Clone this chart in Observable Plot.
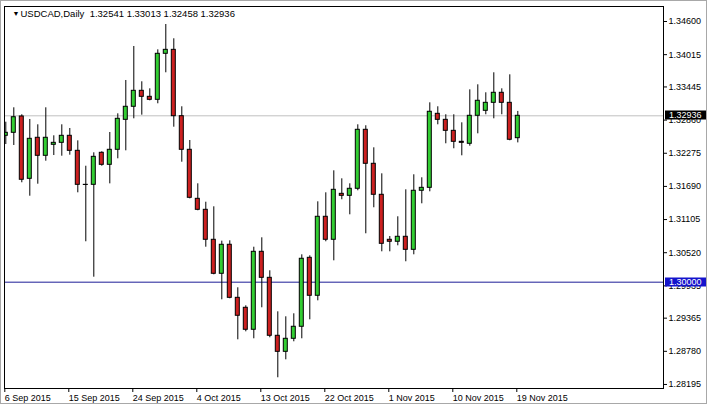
<!DOCTYPE html>
<html><head><meta charset="utf-8">
<script src="https://cdn.jsdelivr.net/npm/d3@7"></script>
<script src="https://cdn.jsdelivr.net/npm/@observablehq/plot@0.6"></script>
<style>
html,body{margin:0;padding:0;background:#fff;}
#wrap{position:relative;width:708px;height:407px;overflow:hidden;}
#border{position:absolute;left:0;top:0;width:707px;height:404px;box-sizing:border-box;border:1px solid #a8a8a8;pointer-events:none;}
</style></head><body><div id="wrap"><div id="border"></div></div>
<script>
const symbolName = "USDCAD,Daily";
const openP  = [1.32583,1.32636,1.32924,1.31824,1.32548,1.32230,1.32424,1.32459,1.32583,1.32318,
                1.31718,1.31718,1.32283,1.32071,1.32336,1.32865,1.33095,1.33377,1.33271,1.33218,
                1.34030,1.34100,1.32929,1.32336,1.31471,1.31277,1.30748,1.30148,1.30660,1.29724,
                1.29548,1.29160,1.30536,1.30077,1.29054,1.28771,1.29001,1.29213,1.30430,1.29760,
                1.31154,1.30748,1.31559,1.31524,1.31648,1.32689,1.32089,1.31542,1.30748,1.30713,
                1.30801,1.30571,1.31613,1.31665,1.32971,1.32865,1.32671,1.32477,1.32442,1.32936,
                1.33024,1.33165,1.33342,1.33165,1.32541];
const highP  = [1.32823,1.33077,1.32954,1.32871,1.32777,1.33077,1.32583,1.32777,1.32712,1.32494,
                1.32046,1.32283,1.32301,1.32641,1.32971,1.33559,1.34159,1.33536,1.33412,1.34100,
                1.34547,1.34295,1.33095,1.32500,1.31736,1.31411,1.31330,1.30724,1.30730,1.29901,
                1.29583,1.30617,1.30783,1.30201,1.29477,1.29389,1.29442,1.30483,1.30465,1.31418,
                1.31577,1.31965,1.31824,1.31736,1.32777,1.32760,1.32371,1.31912,1.30806,1.31154,
                1.31630,1.31895,1.31842,1.33165,1.33095,1.32954,1.32954,1.32812,1.33394,1.33483,
                1.33342,1.33695,1.33412,1.33659,1.33013];
const lowP   = [1.32429,1.32412,1.31754,1.31517,1.31729,1.32135,1.32235,1.32223,1.32241,1.31577,
                1.30713,1.30088,1.32046,1.31735,1.32177,1.32318,1.32883,1.32947,1.33200,1.33148,
                1.33695,1.32735,1.32117,1.31470,1.31260,1.30617,1.30130,1.29689,1.29707,1.28983,
                1.29124,1.29001,1.29548,1.29019,1.28313,1.28630,1.28948,1.29001,1.29336,1.29671,
                1.30713,1.30377,1.31454,1.31189,1.31613,1.30854,1.31313,1.30536,1.30536,1.30642,
                1.30360,1.30483,1.31383,1.31595,1.32777,1.32442,1.32354,1.32230,1.32400,1.32618,
                1.32954,1.32883,1.32954,1.32495,1.32458];
const closeP = [1.32636,1.32911,1.31807,1.32530,1.32230,1.32548,1.32459,1.32583,1.32318,1.31718,
                1.31715,1.32212,1.32071,1.32336,1.32883,1.33095,1.33377,1.33271,1.33218,1.34030,
                1.34100,1.32929,1.32336,1.31489,1.31277,1.30748,1.30148,1.30660,1.29724,1.29407,
                1.29160,1.30536,1.30077,1.29054,1.28771,1.29001,1.29213,1.30413,1.29760,1.31154,
                1.30748,1.31630,1.31524,1.31648,1.32689,1.32089,1.31542,1.30677,1.30713,1.30801,
                1.30571,1.31613,1.31665,1.33007,1.32865,1.32671,1.32477,1.32459,1.32936,1.33201,
                1.33165,1.33342,1.33165,1.32513,1.32936];
const dateTickIdx = [0, 8, 16, 24, 32, 40, 48, 56, 64];
const dateTickLabels = ["6 Sep 2015","15 Sep 2015","24 Sep 2015","4 Oct 2015","13 Oct 2015",
                        "22 Oct 2015","1 Nov 2015","10 Nov 2015","19 Nov 2015"];
const priceTicks = [1.34600,1.34015,1.33445,1.32860,1.32275,1.31690,1.31105,1.30520,1.29935,1.29365,1.28780,1.28195];
const bidPrice = 1.32936;
const levelPrice = 1.30000;

const candles = openP.map((o, i) => ({i, open: o, high: highP[i], low: lowP[i], close: closeP[i]}));
const last = candles[candles.length - 1];
const header = symbolName + "\u00a0\u00a0" + [last.open, last.high, last.low, last.close].map(v => v.toFixed(5)).join(" ");

const tickPos = dateTickIdx.map(i => i - 0.25);
const labelByPos = new Map(tickPos.map((p, k) => [p, dateTickLabels[k]]));

function priceBox(value, bg) {
  return (index, scales, values, dims) => {
    const y = Math.round(scales.y(value));
    const x0 = dims.width - dims.marginRight + 2;
    const g = d3.create("svg:g");
    g.append("rect").attr("x", x0).attr("y", y - 4.5).attr("width", 41).attr("height", 9).attr("fill", bg);
    g.append("text").attr("x", x0 + 4).attr("y", y).attr("dy", "0.36em").attr("fill", "white")
      .attr("text-anchor", "start")
      .attr("font-size", 9).attr("font-family", "'Liberation Sans', Arial, sans-serif").text(value.toFixed(5));
    return g.node();
  };
}

const chart = Plot.plot({
  width: 708, height: 407,
  marginLeft: 4, marginRight: 45, marginTop: 6, marginBottom: 19,
  style: {fontFamily: "'Liberation Sans', Arial, sans-serif", fontSize: "9px", background: "white", color: "black", overflow: "visible"},
  x: {type: "linear", domain: [-0.1625, 82.2125], axis: null},
  y: {type: "linear", domain: [1.281238, 1.348647], axis: null},
  marks: [
    Plot.ruleY([bidPrice], {stroke: "#c0c0c0"}),
    Plot.ruleY([levelPrice], {stroke: "#1c1c96"}),
    Plot.ruleX(candles, {x: "i", y1: "low", y2: "high", stroke: "black", clip: true}),
    Plot.rect(candles, {x1: d => d.i - 0.25, x2: d => d.i + 0.25, y1: "open", y2: "close",
      fill: d => d.close >= d.open ? "#32cd32" : "#cc2020", stroke: "black", strokeWidth: 1, clip: true}),
    Plot.frame({stroke: "black"}),
    Plot.axisY(priceTicks, {anchor: "right", tickSize: 3, tickPadding: 2, tickFormat: d => d.toFixed(5), label: null}),
    Plot.axisX(tickPos, {anchor: "bottom", tickSize: 4, tickPadding: 2, textAnchor: "start", dx: 1,
      tickFormat: d => labelByPos.get(d), label: null}),
    priceBox(bidPrice, "black"),
    priceBox(levelPrice, "#1414cc"),
    Plot.text(["\u25BC"], {frameAnchor: "top-left", dx: 8, dy: 7, fontSize: 7, textAnchor: "start", lineAnchor: "middle"}),
    Plot.text([header], {frameAnchor: "top-left", dx: 16, dy: 7, textAnchor: "start", lineAnchor: "middle", fontSize: 9.5})
  ]
});
document.getElementById("wrap").prepend(chart);
</script>
</body></html>
